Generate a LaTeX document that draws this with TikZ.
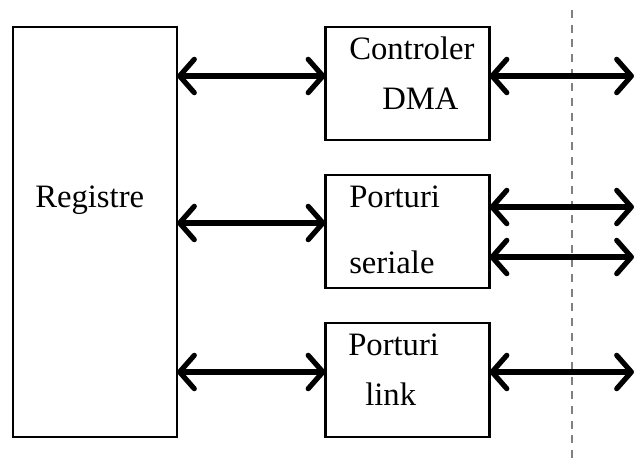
\documentclass[tikz,border=0pt]{standalone}
\usepackage{fontspec}
\setmainfont{Liberation Serif}
\usetikzlibrary{arrows.meta}
\begin{document}
\begin{tikzpicture}[x=0.75pt,y=-0.75pt,
  box/.style={draw=black,line width=1.6pt,minimum width=123pt,outer sep=0pt,inner sep=0pt},
  lbl/.style={anchor=base west,inner sep=0pt,font=\fontsize{24.5pt}{29pt}\selectfont},
  bus/.style={line width=3.9pt,{Straight Barb[length=11pt,width=25pt,round]}-{Straight Barb[length=11pt,width=25pt,round]}},
  sep/.style={draw=black!50,line width=1.2pt,dash pattern=on 6pt off 5pt}]
\useasboundingbox (0,0) rectangle (636,461);

% boundary line on the right
\coordinate (s1) at (572,10);
\coordinate (s2) at (572,461);
\draw[sep] (s1) -- (s2);

% blocks
\node[box,minimum height=307.5pt] (reg) at (95,232) {};
\node[box,minimum height=84.75pt] (dma) at (407.5,83.5) {};
\node[box,minimum height=84.75pt] (ser) at (407.5,231.5) {};
\node[box,minimum height=85.5pt] (lnk) at (407.5,380) {};

% labels
\node[lbl] (tReg) at (35,207) {Registre};
\node[lbl] (tDma1) at (349,59) {Controler};
\node[lbl] (tDma2) at (382,109) {DMA};
\node[lbl] (tSer1) at (349,207) {Porturi};
\node[lbl] (tSer2) at (349,273) {seriale};
\node[lbl] (tLnk1) at (348,355) {Porturi};
\node[lbl] (tLnk2) at (365,405) {link};

% bus heights
\coordinate (y1) at (0,76);
\coordinate (y2) at (0,223);
\coordinate (y3) at (0,372);
\coordinate (y4) at (0,207);
\coordinate (y5) at (0,257);
\coordinate (xr) at (634,0);

% internal buses
\draw[bus] (reg.east |- y1) -- (dma.west |- y1);
\draw[bus] (reg.east |- y2) -- (ser.west |- y2);
\draw[bus] (reg.east |- y3) -- (lnk.west |- y3);

% external buses
\draw[bus] (dma.east |- y1) -- (xr |- y1);
\draw[bus] (ser.east |- y4) -- (xr |- y4);
\draw[bus] (ser.east |- y5) -- (xr |- y5);
\draw[bus] (lnk.east |- y3) -- (xr |- y3);
\end{tikzpicture}
\end{document}
